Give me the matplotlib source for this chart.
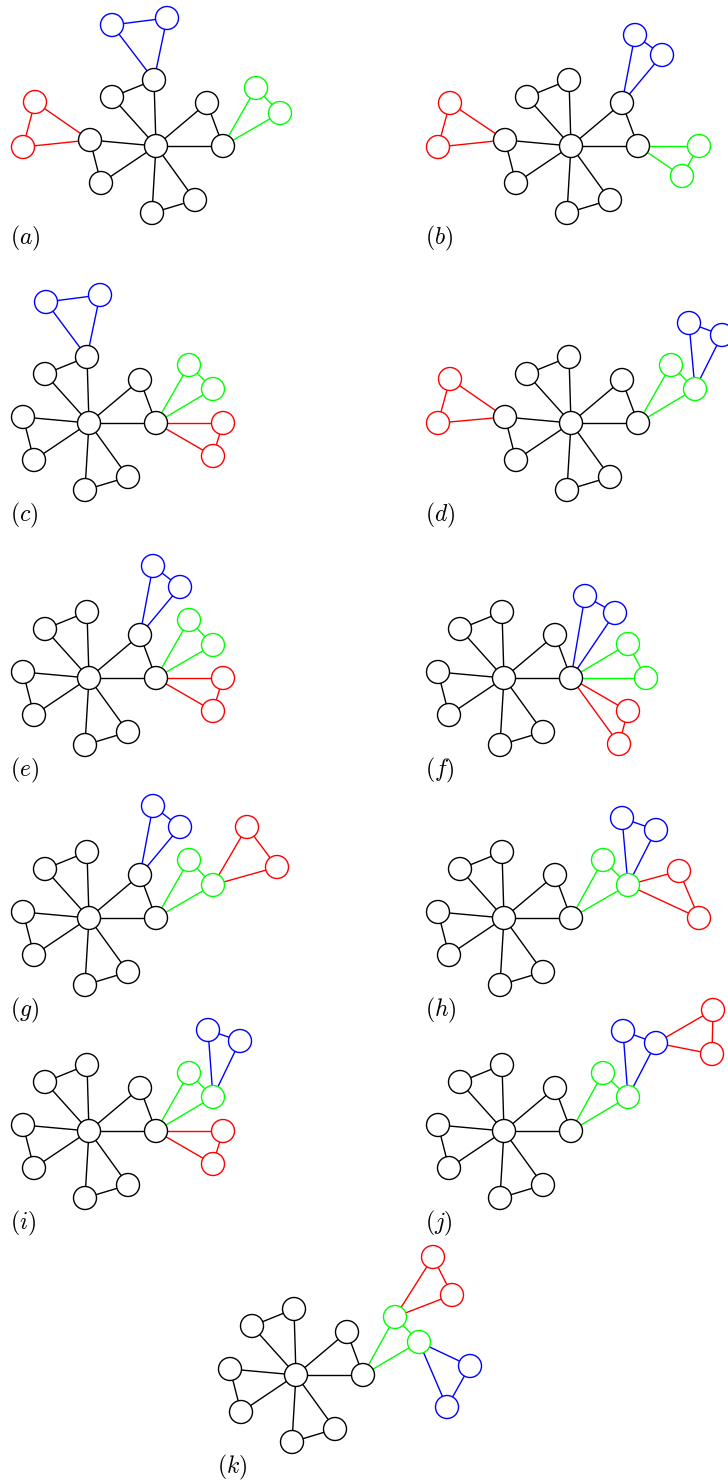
import matplotlib
matplotlib.use('Agg')
import matplotlib.pyplot as plt
from matplotlib.patches import Circle

plt.rcParams['mathtext.fontset'] = 'cm'

# core graph: hub + 8 spokes (offsets from hub, px)
core_names = ['hub', 'top', 'ul', 'left', 'll', 'bot', 'br', 'ur', 'right']
core_dx = [0, -2, -44, -66, -55, -4, 39, 51, 67]
core_dy = [0, -66, -49, -6, 37, 67, 54, -43, 0]
core_edges = [('hub', n) for n in core_names[1:]] + [
    ('top', 'ul'), ('left', 'll'), ('bot', 'br'), ('ur', 'right')]

labels = ['a', 'b', 'c', 'd', 'e', 'f', 'g', 'h', 'i', 'j', 'k']
hub_x = [156, 571, 89, 571, 89, 504, 89, 504, 89, 504, 296]
hub_y = [146, 146, 423, 423, 678, 678, 918, 918, 1131, 1131, 1375]
label_x = [10, 425, 10, 425, 10, 425, 10, 425, 10, 425, 217]
label_y = [238, 238, 515, 515, 770, 770, 1010, 1010, 1223, 1223, 1467]

# coloured triangles: (name, colour, anchor node, (dx1, dy1), (dx2, dy2))
triangles = {
    'a': [('B', 'blue', 'top', (-44, -121), (11, -128)),
          ('R', 'red', 'left', (-121, -44), (-133, 1)),
          ('G', 'lime', 'right', (100, -58), (124, -33))],
    'b': [('B', 'blue', 'ur', (64, -111), (91, -91)),
          ('G', 'lime', 'right', (128, 0), (111, 30)),
          ('R', 'red', 'left', (-121, -43), (-133, 1))],
    'c': [('B', 'blue', 'top', (-43, -121), (11, -128)),
          ('G', 'lime', 'right', (100, -58), (124, -34)),
          ('R', 'red', 'right', (134, 0), (124, 33))],
    'd': [('R', 'red', 'left', (-121, -44), (-133, 0)),
          ('G', 'lime', 'right', (100, -58), (124, -34)),
          ('B', 'blue', 'G2', (118, -100), (151, -88))],
    'e': [('B', 'blue', 'ur', (64, -112), (91, -91)),
          ('G', 'lime', 'right', (100, -58), (124, -33)),
          ('R', 'red', 'right', (134, 0), (124, 33))],
    'f': [('B', 'blue', 'right', (81, -82), (111, -65)),
          ('G', 'lime', 'right', (124, -34), (142, 0)),
          ('R', 'red', 'right', (124, 33), (115, 66))],
    'g': [('B', 'blue', 'ur', (64, -112), (91, -91)),
          ('G', 'lime', 'right', (100, -58), (124, -33)),
          ('R', 'red', 'G2', (158, -91), (188, -51))],
    'h': [('G', 'lime', 'right', (99, -58), (124, -33)),
          ('B', 'blue', 'G2', (118, -100), (152, -88)),
          ('R', 'red', 'G2', (175, -47), (195, 0))],
    'i': [('G', 'lime', 'right', (100, -58), (124, -34)),
          ('B', 'blue', 'G2', (119, -101), (151, -90)),
          ('R', 'red', 'right', (134, 0), (124, 33))],
    'j': [('G', 'lime', 'right', (99, -58), (124, -34)),
          ('B', 'blue', 'G2', (119, -100), (152, -88)),
          ('R', 'red', 'B2', (209, -121), (208, -77))],
    'k': [('G', 'lime', 'right', (99, -58), (123, -33)),
          ('B', 'blue', 'G2', (174, -9), (151, 32)),
          ('R', 'red', 'G1', (137, -118), (156, -80))],
}

R = 11.5
fig = plt.figure(figsize=(7.28, 14.84), dpi=100)
ax = fig.add_axes([0, 0, 1, 1])
ax.set_xlim(0, 728)
ax.set_ylim(1484, 0)
ax.set_aspect('equal')
ax.axis('off')

for i, lab in enumerate(labels):
    hx, hy = hub_x[i], hub_y[i]
    pos = {n: (hx + dx, hy + dy) for n, dx, dy in zip(core_names, core_dx, core_dy)}
    col = {n: 'black' for n in core_names}
    edges = [(a, b, 'black') for a, b in core_edges]
    for name, c, anchor, p1, p2 in triangles[lab]:
        n1, n2 = name + '1', name + '2'
        pos[n1] = (hx + p1[0], hy + p1[1])
        pos[n2] = (hx + p2[0], hy + p2[1])
        col[n1] = col[n2] = c
        edges += [(anchor, n1, c), (anchor, n2, c), (n1, n2, c)]
    for a, b, c in edges:
        ax.plot([pos[a][0], pos[b][0]], [pos[a][1], pos[b][1]], color=c, lw=1.0, zorder=1)
    for n, (x, y) in pos.items():
        ax.add_patch(Circle((x, y), R, facecolor='white', edgecolor=col[n], lw=1.0, zorder=2))
    ax.text(label_x[i], label_y[i], '$(' + lab + ')$', fontsize=17, va='center', ha='left')

fig.savefig('out.png', dpi=100)
